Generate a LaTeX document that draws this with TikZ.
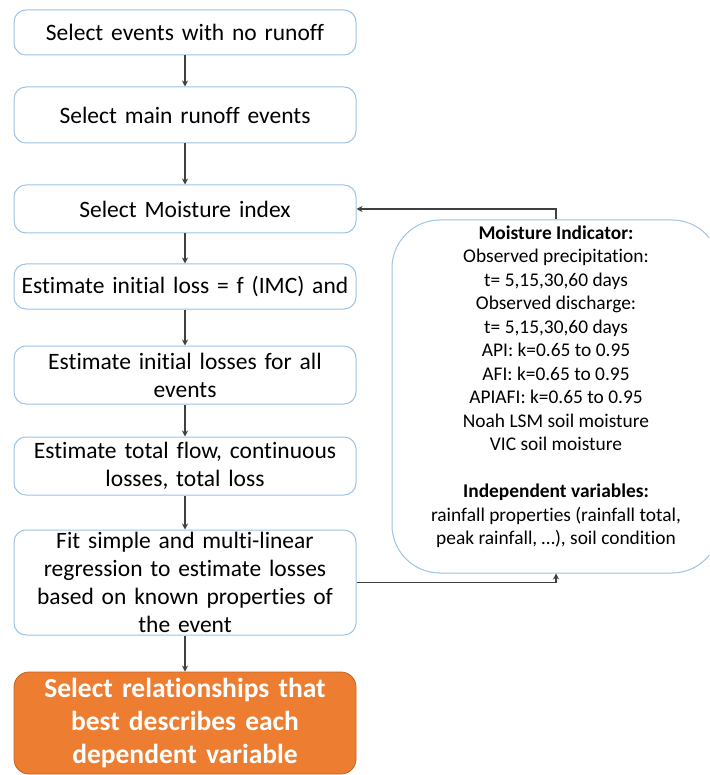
\documentclass[tikz,border=0pt]{standalone}
\usepackage{fontspec}
\setmainfont{Carlito}[Ligatures=NoCommon]
\usetikzlibrary{arrows.meta}
\definecolor{boxline}{HTML}{9DC3E6}
\definecolor{arrowgrey}{HTML}{404040}
\definecolor{accentorange}{HTML}{ED7D31}
\begin{document}
\begin{tikzpicture}[x=1pt,y=-1pt,
  stepbox/.style={draw=boxline, line width=1pt, fill=white, rounded corners=12pt,
    minimum width=342pt, inner sep=0pt, align=center, text width=330pt,
    font=\fontsize{23.5}{28}\selectfont},
  finalbox/.style={draw=accentorange!80!black, line width=0.8pt, fill=accentorange,
    rounded corners=15pt, minimum width=342pt, inner sep=0pt, align=center,
    text width=330pt, text=white, font=\fontsize{27.5}{33}\selectfont\bfseries},
  infopanel/.style={draw=boxline, line width=1pt, fill=white, rounded corners=48pt,
    inner sep=0pt},
  arr/.style={draw=arrowgrey, line width=1.3pt,
    -{Stealth[length=6pt,width=6pt]}}]
\useasboundingbox (0,0) rectangle (709,775);

% main chain of steps
\node[stepbox, minimum height=45pt] (b1) at (185,32.5) {Select events with no runoff};
\node[stepbox, minimum height=56pt] (b2) at (185,115) {Select main runoff events};
\node[stepbox, minimum height=48pt] (b3) at (185,209) {Select Moisture index};
\node[stepbox, minimum height=45pt] (b4) at (185,286.5) {Estimate initial loss = f (IMC) and};
\node[stepbox, minimum height=58pt] (b5) at (185,375) {Estimate initial losses for all\\ events};
\node[stepbox, minimum height=58pt] (b6) at (185,466) {Estimate total flow, continuous\\ losses, total loss};
\node[stepbox, minimum height=105pt] (b7) at (185,582.5) {Fit simple and multi-linear\\ regression to estimate losses\\ based on known properties of\\ the event};
\node[finalbox, minimum height=102pt] (b8) at (185,723) {Select relationships that\\ best describes each\\ dependent variable};

% side panel with indicators and variables
\begin{scope}
\clip (0,0) rectangle (709,775);
\node[infopanel, minimum width=328pt, minimum height=353pt] (panel) at (556,396.5) {};
\end{scope}
\node[align=center, inner sep=0pt, font=\fontsize{19.4}{23.5}\selectfont] (paneltext) at (556,387)
  {\textbf{Moisture Indicator:}\\
   Observed precipitation:\\
   t= 5,15,30,60 days\\
   Observed discharge:\\
   t= 5,15,30,60 days\\
   API: k=0.65 to 0.95\\
   AFI: k=0.65 to 0.95\\
   APIAFI: k=0.65 to 0.95\\
   Noah LSM soil moisture\\
   VIC soil moisture\\[23.5pt]
   \textbf{Independent variables:}\\
   rainfall properties (rainfall total,\\
   peak rainfall, …), soil condition};

% connectors
\draw[arr] (b1) -- (b2);
\draw[arr] (b2) -- (b3);
\draw[arr] (b3) -- (b4);
\draw[arr] (b4) -- (b5);
\draw[arr] (b5) -- (b6);
\draw[arr] (b6) -- (b7);
\draw[arr] (b7) -- (b8);
\draw[arr] (panel.north) |- (b3.east);
\draw[arr] (b7.east) -| (panel.south);
\end{tikzpicture}
\end{document}
